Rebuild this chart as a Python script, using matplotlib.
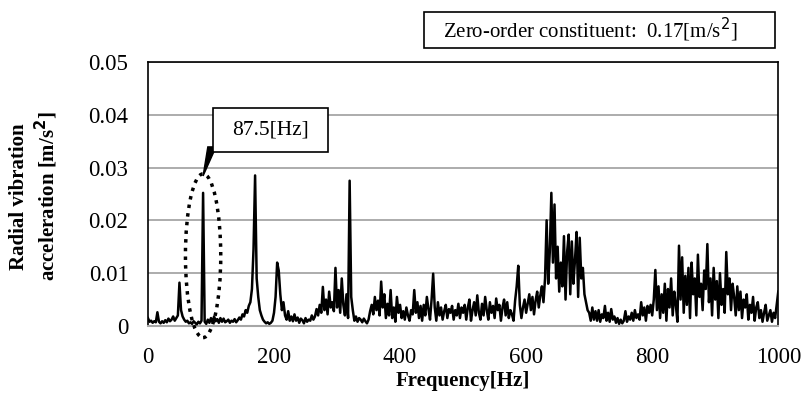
import numpy as np
import matplotlib
matplotlib.use('Agg')
import matplotlib.pyplot as plt
from matplotlib.patches import Ellipse, Polygon, Rectangle

plt.rcParams['font.family'] = ['Liberation Serif', 'DejaVu Serif']

# spectrum, 2.5 Hz steps, values in 1e-3 m/s^2
freq_step = 2.5
amp_0_100 = [1.5, 0.8, 1.0, 0.6, 0.9, 0.7, 2.6, 0.8, 0.5, 0.9,
             0.6, 1.1, 0.7, 1.4, 0.9, 1.2, 1.8, 1.0, 1.5, 2.0,
             8.2, 3.0, 1.8, 1.2, 0.8, 1.0, 0.5, 0.7, 0.4, 0.9,
             0.6, 0.3, 0.8, 0.5, 1.0, 25.2, 0.8, 0.4, 1.2, 0.6]
amp_100_200 = [1.5, 0.7, 1.8, 0.9, 1.3, 0.6, 1.5, 0.8, 1.4, 0.7,
               0.9, 1.2, 0.6, 1.0, 0.8, 1.3, 0.7, 1.1, 1.6, 1.2,
               2.2, 1.8, 3.0, 2.5, 3.8, 4.5, 7.0, 14.5, 28.5, 9.0,
               5.5, 3.0, 2.0, 1.2, 0.8, 0.5, 0.7, 0.4, 0.6, 1.0]
amp_200_300 = [2.5, 5.5, 12.0, 10.5, 6.0, 3.0, 4.5, 2.0, 1.2, 2.8,
               1.0, 1.8, 0.9, 2.2, 1.0, 1.6, 0.6, 1.4, 1.1, 0.5,
               1.5, 0.8, 1.2, 1.0, 2.0, 1.2, 1.8, 3.2, 2.0, 4.0,
               2.5, 7.4, 3.0, 5.0, 2.2, 6.5, 3.5, 4.5, 2.8, 11.0]
amp_300_400 = [3.5, 6.8, 2.5, 9.0, 4.0, 2.0, 6.0, 1.5, 27.5, 5.5,
               3.0, 1.0, 1.8, 0.8, 1.5, 1.2, 0.7, 1.4, 0.9, 0.5,
               1.2, 2.8, 4.0, 2.2, 5.5, 3.0, 4.8, 2.0, 8.4, 3.5,
               6.0, 1.5, 4.2, 2.0, 6.8, 1.5, 3.5, 0.8, 5.5, 2.5]
amp_400_500 = [4.0, 1.5, 2.8, 1.2, 3.5, 2.0, 1.0, 3.0, 2.2, 6.8,
               2.5, 4.5, 1.5, 3.8, 1.0, 4.0, 2.0, 5.5, 3.2, 1.2,
               5.0, 9.9, 3.5, 1.0, 4.5, 2.0, 3.5, 1.2, 2.8, 4.0,
               1.5, 3.2, 2.5, 3.8, 1.2, 3.0, 2.0, 4.2, 1.5, 3.5]
amp_500_600 = [2.5, 4.0, 1.2, 3.5, 5.0, 1.0, 3.0, 4.5, 2.0, 5.8,
               2.5, 1.2, 4.2, 2.0, 5.5, 3.0, 1.2, 4.5, 2.5, 3.8,
               1.5, 5.2, 3.0, 4.0, 1.0, 3.5, 5.0, 2.0, 4.5, 1.5,
               3.0, 2.2, 1.0, 4.8, 7.5, 11.4, 4.0, 1.5, 3.5, 5.0]
amp_600_700 = [2.5, 4.2, 6.0, 3.0, 5.5, 2.2, 4.8, 6.5, 3.5, 5.8,
               7.5, 4.5, 9.0, 20.0, 8.0, 14.0, 25.2, 12.0, 23.0, 9.0,
               15.0, 6.5, 12.0, 7.5, 17.0, 5.0, 14.0, 17.3, 6.0, 16.0,
               8.0, 12.5, 17.8, 5.5, 16.7, 9.0, 11.0, 6.0, 4.5, 3.0]
amp_700_800 = [2.5, 1.0, 3.5, 1.2, 2.8, 1.0, 3.0, 0.8, 2.2, 1.5,
               3.8, 1.0, 2.5, 0.8, 3.2, 1.2, 1.8, 0.6, 1.5, 0.4,
               1.2, 0.5, 1.0, 2.8, 0.8, 1.8, 1.2, 2.5, 1.0, 3.0,
               1.5, 2.2, 1.2, 4.5, 2.0, 3.5, 1.0, 3.8, 2.5, 4.0]
amp_800_900 = [2.0, 5.0, 10.6, 3.0, 7.5, 1.5, 6.0, 2.5, 8.0, 1.0,
               7.0, 3.5, 9.0, 2.0, 6.5, 4.0, 0.8, 15.2, 5.0, 13.0,
               2.5, 9.5, 4.0, 11.0, 1.5, 12.0, 6.0, 9.0, 2.0, 13.5,
               5.5, 8.0, 3.0, 10.5, 7.0, 15.5, 4.5, 9.0, 2.0, 11.0]
amp_900_1000 = [5.0, 8.5, 1.5, 10.0, 4.0, 7.0, 2.5, 14.0, 6.0, 9.0,
                3.0, 8.0, 5.5, 2.0, 7.5, 3.0, 6.5, 1.5, 5.0, 3.5,
                6.0, 1.2, 4.0, 2.5, 5.5, 1.0, 3.5, 4.5, 1.5, 3.0,
                0.8, 2.5, 4.0, 1.0, 2.0, 3.0, 0.8, 2.5, 1.5, 4.0,
                6.5]

amp = np.array(amp_0_100 + amp_100_200 + amp_200_300 + amp_300_400 + amp_400_500
               + amp_500_600 + amp_600_700 + amp_700_800 + amp_800_900 + amp_900_1000) * 1e-3
freq = np.arange(len(amp)) * freq_step

x_ticks = [0, 200, 400, 600, 800, 1000]
y_ticks = [0, 0.01, 0.02, 0.03, 0.04, 0.05]
y_tick_labels = ['0', '0.01', '0.02', '0.03', '0.04', '0.05']
peak_label = '87.5[Hz]'
peak_freq = 87.5

fig = plt.figure(figsize=(8.04, 3.99), dpi=100)
ax = fig.add_axes([0.184, 0.183, 0.784, 0.662])

ax.plot(freq, amp, color='black', lw=1.8, zorder=3)

ax.set_xlim(0, 1000)
ax.set_ylim(0, 0.05)
ax.set_xticks(x_ticks)
ax.set_yticks(y_ticks)
ax.set_yticklabels(y_tick_labels)
ax.tick_params(length=0, labelsize=16.5)
ax.tick_params(axis='x', pad=15)
ax.tick_params(axis='y', pad=14)
ax.yaxis.grid(True, color='#a6a6a6', lw=1.3, zorder=1)
ax.set_axisbelow(True)
for side in ['top', 'left', 'right']:
    ax.spines[side].set_color('black')
    ax.spines[side].set_linewidth(1.2)
ax.spines['bottom'].set_color('#a6a6a6')
ax.spines['bottom'].set_linewidth(1.5)

ax.set_xlabel('Frequency[Hz]', fontsize=15, fontweight='bold')
ax.xaxis.set_label_coords(0.5, -0.17)
ax.xaxis.label.set_va('top')
ax.set_ylabel('Radial vibration\nacceleration [m/s$^\\mathbf{2}$]', fontsize=15,
              fontweight='bold', linespacing=1.15)
ax.yaxis.set_label_coords(-0.14, 0.49)

# dotted ellipse around the 87.5 Hz peak
ell = Ellipse((peak_freq, 0.0133), 56, 0.031, fill=False, edgecolor='black',
              lw=2.5, linestyle=(0, (1, 1.5)), clip_on=False, zorder=4)
ax.add_patch(ell)

# callout wedge and label box
wedge = Polygon([(95, 0.0339), (108, 0.0339), (87.5, 0.0284)], closed=True,
                facecolor='black', edgecolor='black', clip_on=False, zorder=4)
ax.add_patch(wedge)
ax.add_patch(Rectangle((103, 0.0330), 183, 0.0082, facecolor='white',
                       edgecolor='black', lw=1.2, zorder=5))
ax.text(194, 0.0371, peak_label, ha='center', va='center', fontsize=15.5, zorder=6)

# zero-order box above the plot
fig.patches.append(Rectangle((424 / 804, 1 - 48 / 399), 351 / 804, 36 / 399,
                             transform=fig.transFigure, facecolor='white',
                             edgecolor='black', lw=1.2))
fig.text(590 / 804, 1 - 30 / 399, 'Zero-order constituent:  0.17[m/s$^2$]',
         ha='center', va='center', fontsize=15)

fig.savefig('out.png', dpi=100, facecolor='white')
